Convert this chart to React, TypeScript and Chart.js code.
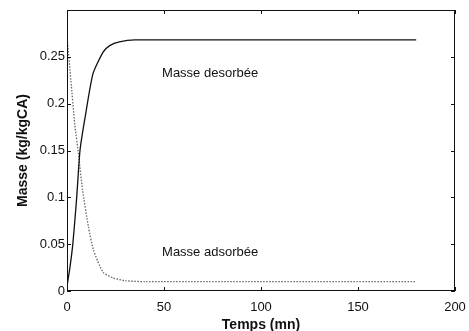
import React, { useEffect, useRef } from "react";
import { Chart, registerables } from "chart.js";

Chart.register(...registerables);

const desorbTimes = [0, 1.5, 3, 5, 6.7, 9.3, 13.4, 18.6, 22, 27, 35, 180];
const desorbValues = [0.005, 0.025, 0.05, 0.1, 0.15, 0.185, 0.232, 0.255, 0.262, 0.266, 0.268, 0.268];

const adsorbTimes = [0, 2, 4, 6, 8, 11, 13.6, 18.6, 23.7, 30, 40, 180];
const adsorbValues = [0.272, 0.225, 0.178, 0.145, 0.108, 0.069, 0.044, 0.02, 0.014, 0.011, 0.01, 0.01];

const xTicks = [0, 50, 100, 150, 200];
const yTicks = [0, 0.05, 0.1, 0.15, 0.2, 0.25];

const labels = [
  { text: "Masse desorbée", x: 49, y: 0.232 },
  { text: "Masse adsorbée", x: 49, y: 0.041 },
];

const FONT = "'Liberation Sans', Arial, sans-serif";

const framePlugin = {
  id: "frame",
  afterDraw(chart: any) {
    const { ctx, chartArea } = chart;
    const xs = chart.scales.x;
    const ys = chart.scales.y;
    ctx.save();
    ctx.strokeStyle = "#111";
    ctx.lineWidth = 1;
    ctx.strokeRect(chartArea.left + 0.5, chartArea.top + 0.5, chartArea.right - chartArea.left - 1, chartArea.bottom - chartArea.top - 1);
    ctx.beginPath();
    for (const v of xTicks) {
      const px = Math.round(xs.getPixelForValue(v)) + 0.5;
      ctx.moveTo(px, chartArea.bottom);
      ctx.lineTo(px, chartArea.bottom - 4);
      ctx.moveTo(px, chartArea.top);
      ctx.lineTo(px, chartArea.top + 4);
    }
    for (const v of yTicks) {
      const py = Math.round(ys.getPixelForValue(v)) + 0.5;
      ctx.moveTo(chartArea.left, py);
      ctx.lineTo(chartArea.left + 4, py);
      ctx.moveTo(chartArea.right, py);
      ctx.lineTo(chartArea.right - 4, py);
    }
    ctx.stroke();
    ctx.fillStyle = "#111";
    ctx.font = `13px ${FONT}`;
    ctx.textBaseline = "middle";
    ctx.textAlign = "left";
    for (const l of labels) {
      ctx.fillText(l.text, xs.getPixelForValue(l.x), ys.getPixelForValue(l.y));
    }
    ctx.restore();
  },
};

export default function App() {
  const ref = useRef<HTMLCanvasElement | null>(null);
  useEffect(() => {
    document.body.style.margin = "0";
    const chart = new Chart(ref.current!, {
      type: "line",
      data: {
        datasets: [
          {
            label: "Masse desorbée",
            data: desorbTimes.map((t, i) => ({ x: t, y: desorbValues[i] })),
            borderColor: "#111",
            borderWidth: 1.3,
            pointRadius: 0,
            tension: 0.2,
          },
          {
            label: "Masse adsorbée",
            data: adsorbTimes.map((t, i) => ({ x: t, y: adsorbValues[i] })),
            borderColor: "#666",
            borderWidth: 1.3,
            borderDash: [1.5, 1.5],
            pointRadius: 0,
            tension: 0.2,
          },
        ],
      },
      options: {
        animation: false,
        responsive: false,
        maintainAspectRatio: false,
        layout: { padding: { top: 10, right: 14, left: 0, bottom: 0 } },
        plugins: { legend: { display: false }, tooltip: { enabled: false } },
        scales: {
          x: {
            type: "linear",
            min: 0,
            max: 200,
            grid: { display: false, drawTicks: false },
            border: { display: false },
            afterBuildTicks: (s: any) => {
              s.ticks = xTicks.map((v) => ({ value: v }));
            },
            afterFit: (s: any) => {
              s.height = 40;
              s.paddingLeft = 0;
              s.paddingRight = 0;
            },
            ticks: {
              padding: 9,
              color: "#111",
              font: { family: FONT, size: 13 },
              maxRotation: 0,
            },
            title: {
              display: true,
              text: "Temps (mn)",
              color: "#111",
              font: { family: FONT, size: 14, weight: "bold", lineHeight: 1 },
              padding: { top: 0, bottom: -1 },
            },
          },
          y: {
            type: "linear",
            min: 0,
            max: 0.3,
            grid: { display: false, drawTicks: false },
            border: { display: false },
            afterBuildTicks: (s: any) => {
              s.ticks = yTicks.map((v) => ({ value: v }));
            },
            afterFit: (s: any) => {
              s.width = 67;
              s.paddingTop = 0;
              s.paddingBottom = 0;
            },
            ticks: {
              padding: 2,
              color: "#111",
              font: { family: FONT, size: 13 },
              callback: (v: any) => String(Number(v)),
            },
            title: {
              display: true,
              text: "Masse (kg/kgCA)",
              color: "#111",
              font: { family: FONT, size: 14, weight: "bold", lineHeight: 1 },
              padding: { top: 16, bottom: 0 },
            },
          },
        },
      },
      plugins: [framePlugin],
    });
    return () => chart.destroy();
  }, []);
  return (
    <div style={{ position: "absolute", left: 0, top: 0, width: 469, height: 331, background: "#fff" }}>
      <canvas ref={ref} width={469} height={331} style={{ width: 469, height: 331 }} />
    </div>
  );
}
